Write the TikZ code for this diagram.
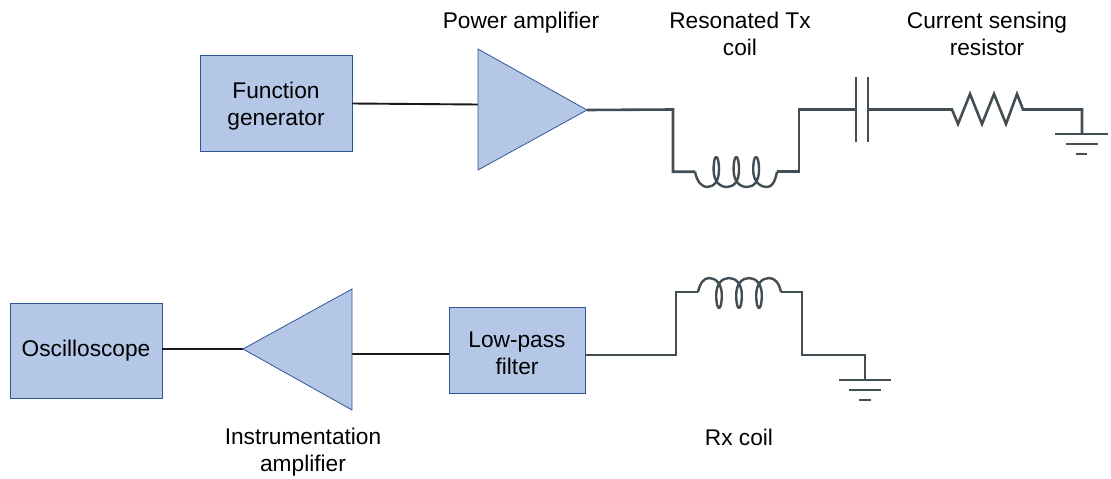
\documentclass[tikz,border=0pt]{standalone}
\usepackage{fontspec}
\setmainfont{Liberation Sans}
\definecolor{boxfill}{HTML}{B4C7E7}
\definecolor{boxedge}{HTML}{2F5597}
\definecolor{wirecol}{HTML}{434D54}
\tikzset{
  block/.style={draw=boxedge,fill=boxfill,line width=0.9pt,inner sep=0pt},
  amp/.style={draw=boxedge,fill=boxfill,line width=0.8pt,line join=miter},
  wire/.style={draw=wirecol,line width=2.6pt,line join=miter,line cap=butt},
  coil/.style={draw=wirecol,line width=2.4pt,line join=round},
  plate/.style={draw=wirecol,line width=2.6pt},
  link/.style={draw=black!90,line width=1.9pt},
  label/.style={align=center,font=\fontsize{22.7}{27}\selectfont,text=black,inner sep=0pt}
}
\begin{document}
\begin{tikzpicture}[x=1pt,y=-1pt]
\useasboundingbox (0,0) rectangle (1111,479);
% blocks
\node[block,minimum width=152pt,minimum height=96pt] (fg) at (276,103) {};
\node[block,minimum width=152pt,minimum height=95pt] (osc) at (86,350.5) {};
\node[block,minimum width=136pt,minimum height=86pt] (lpf) at (517,350) {};
\node[label] (fgt) at (276,106) {Function\\generator};
\node[label] (osct) at (86,351) {Oscilloscope};
\node[label] (lpft) at (517,353) {Low-pass\\filter};
% amplifiers
\coordinate (paA) at (478,49);
\coordinate (paB) at (478,170);
\coordinate (paO) at (587,110);
\coordinate (paI) at (478,104.5);
\coordinate (iaA) at (352,289);
\coordinate (iaB) at (352,410);
\coordinate (iaO) at (243,349);
\coordinate (iaI) at (352,354);
\coordinate (fgO) at (352,103.5);
\coordinate (oscI) at (162,349);
\coordinate (lpfO) at (449,354);
\coordinate (lpfR) at (585,355);
\draw[link] (fgO) -- (paI);
\draw[link] (iaO) -- (oscI);
\draw[link] (lpfO) -- (iaI);
\draw[amp] (paA) -- (paO) -- (paB) -- cycle;
\draw[amp] (iaA) -- (iaO) -- (iaB) -- cycle;
% Tx chain junctions
\coordinate (t1) at (673,109.5);
\coordinate (t2) at (673,171.7);
\coordinate (lIn) at (695,171.7);
\coordinate (lOut) at (777,171.7);
\coordinate (t3) at (799,171.7);
\coordinate (t4) at (799,109.5);
\coordinate (capL) at (856,109.5);
\coordinate (capR) at (868,109.5);
\coordinate (rIn) at (952,109.5);
\coordinate (rOut) at (1023,109.5);
\coordinate (t5) at (1082,109.5);
\coordinate (gndT) at (1082,134);
\draw[wire] (paO) -- (t1) -- (t2) -- (lIn);
\draw[coil] (lIn) .. controls (697,182) and (702,187) .. (707,187)
  .. controls (714,187) and (719,181) .. (719,170) .. controls (719,162) and (717.8,157) .. (716.2,157)
  .. controls (714.6,157) and (713.6,162) .. (713.6,170) .. controls (713.6,181) and (719.5,187) .. (727,187)
  .. controls (734,187) and (739,181) .. (739,170) .. controls (739,162) and (737.8,157) .. (736.3,157)
  .. controls (734.7,157) and (733.6,162) .. (733.6,170) .. controls (733.6,181) and (739.5,187) .. (747,187)
  .. controls (754,187) and (759,181) .. (759,170) .. controls (759,162) and (757.8,157) .. (756,157)
  .. controls (754.4,157) and (753.2,162) .. (753.2,170) .. controls (753.2,181) and (759.5,187) .. (767,187)
  .. controls (772,187) and (775,182) .. (lOut);
\draw[wire] (lOut) -- (t3) -- (t4) -- (capL);
\draw[plate] (856,77) -- (856,141.7);
\draw[plate] (868,77) -- (868,141.7);
\draw[wire] (capR) -- (rIn) -- (958,124) -- (970,94) -- (982,124) -- (994,94) -- (1006,124) -- (1017,94) -- (rOut) -- (t5) -- (gndT);
\draw[plate] (1055,134) -- (1108,134);
\draw[plate] (1066,144) -- (1098,144);
\draw[plate] (1076,154) -- (1087,154);
% Rx chain
\coordinate (r1) at (676,355);
\coordinate (r2) at (676,292);
\coordinate (cIn) at (698,292);
\coordinate (cOut) at (781,292);
\coordinate (r3) at (802,292);
\coordinate (r4) at (802,355);
\coordinate (r5) at (865,355);
\coordinate (gndR) at (865,380);
\draw[wire] (lpfR) -- (r1) -- (r2) -- (cIn);
\draw[coil] (cIn) .. controls (700,283) and (704,278) .. (709,278)
  .. controls (716,278) and (721.8,284) .. (721.8,295) .. controls (721.8,303) and (720.6,308) .. (719,308)
  .. controls (717.4,308) and (716.2,303) .. (716.2,295) .. controls (716.2,284) and (722,278) .. (729,278)
  .. controls (736,278) and (741.8,284) .. (741.8,295) .. controls (741.8,303) and (740.6,308) .. (739,308)
  .. controls (737.4,308) and (736.2,303) .. (736.2,295) .. controls (736.2,284) and (742,278) .. (749,278)
  .. controls (756,278) and (761.8,284) .. (761.8,295) .. controls (761.8,303) and (760.6,308) .. (759,308)
  .. controls (757.4,308) and (756.2,303) .. (756.2,295) .. controls (756.2,284) and (762,278) .. (769,278)
  .. controls (775,278) and (779,283) .. (cOut);
\draw[wire] (cOut) -- (r3) -- (r4) -- (r5) -- (gndR);
\draw[plate] (839,380) -- (891,380);
\draw[plate] (849,390) -- (881,390);
\draw[plate] (859,400) -- (871,400);
% labels
\node[label] (l1) at (521,23) {Power amplifier};
\node[label] (l2) at (740,34) {Resonated Tx\\coil};
\node[label] (l3) at (987,34) {Current sensing\\resistor};
\node[label] (l4) at (303,452) {Instrumentation\\amplifier};
\node[label] (l5) at (739,437) {Rx coil};
\end{tikzpicture}
\end{document}
